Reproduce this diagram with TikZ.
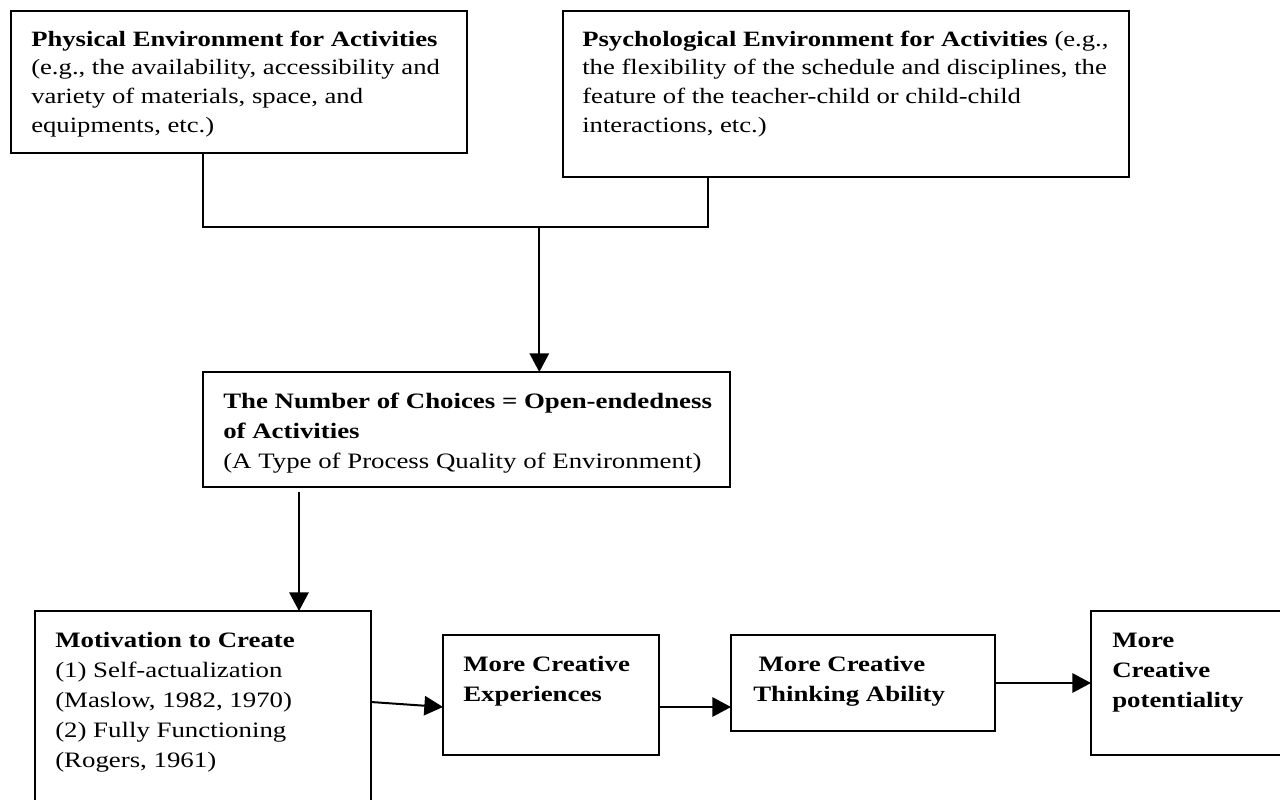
\documentclass[tikz,border=0pt]{standalone}
\usepackage{fontspec}
\setmainfont[FakeStretch=1.22]{Liberation Serif}
\usetikzlibrary{arrows.meta,calc}
\begin{document}
\begin{tikzpicture}[x=0.75pt,y=-0.75pt,
  box/.style 2 args={draw,line width=1.5pt,anchor=north west,inner sep=0pt,outer sep=0pt,
    minimum width=#1*0.75pt,minimum height=#2*0.75pt},
  txt/.style={anchor=base west,inner sep=0pt,align=left,font=\fontsize{16.4pt}{21.5pt}\selectfont},
  txtb/.style={anchor=base west,inner sep=0pt,align=left,font=\fontsize{16.5pt}{22.5pt}\selectfont},
  link/.style={line width=1.5pt},
  arr/.style={line width=1.5pt,-{Triangle[length=14pt,width=14.5pt]}}]
\useasboundingbox (0,0) rectangle (1280,799);

% boxes
\node[box={456}{142}] (phys) at (11,11) {};
\node[box={566}{166}] (psych) at (563,11) {};
\node[box={527}{115}] (choice) at (203,372) {};
\node[box={336}{200}] (mot) at (35,611) {};
\node[box={216}{120}] (exp) at (443,635) {};
\node[box={264}{96}] (think) at (731,635) {};
\node[box={210}{144}] (pot) at (1091,611) {};

% texts (anchor = baseline of the last line)
\node[txt] (physT) at (31,132) {\textbf{Physical Environment for Activities}\\
(e.g., the availability, accessibility and\\
variety of materials, space, and\\
equipments, etc.)};
\node[txt] (psychT) at (582,132) {\textbf{Psychological Environment for Activities} (e.g.,\\
the flexibility of the schedule and disciplines, the\\
feature of the teacher-child or child-child\\
interactions, etc.)};
\node[txtb] (choiceT) at (223,468) {\textbf{The Number of Choices = Open-endedness}\\
\textbf{of Activities}\\
(A Type of Process Quality of Environment)};
\node[txtb] (motT) at (55,767) {\textbf{Motivation to Create}\\
(1) Self-actualization\\
(Maslow, 1982, 1970)\\
(2) Fully Functioning\\
(Rogers, 1961)};
\node[txtb] (expT) at (463,701) {\textbf{More Creative}\\
\textbf{Experiences}};
\node[txtb] (thinkT) at (753,701) {\hspace*{4pt}\textbf{More Creative}\\
\textbf{Thinking Ability}};
\node[txtb] (potT) at (1112,707) {\textbf{More}\\
\textbf{Creative}\\
\textbf{potentiality}};

% connectors
\coordinate (j1) at (203,227);
\coordinate (j2) at (707.7,227);
\coordinate (j0) at (539.3,227);
\coordinate (c1) at (299,492);
\draw[link] (phys.south -| j1) -- (j1) -- (j2) -- (psych.south -| j2);
\draw[arr] (j0) -- (j0 |- choice.north);
\draw[arr] (c1) -- (c1 |- mot.north);
\draw[arr] ($(mot.north east)+(0,91)$) -- ($(exp.north west)+(0,72)$);
\draw[arr] ($(exp.north east)+(0,72)$) -- ($(think.north west)+(0,72)$);
\draw[arr] ($(think.north east)+(0,48)$) -- ($(pot.north west)+(0,72)$);
\end{tikzpicture}
\end{document}
